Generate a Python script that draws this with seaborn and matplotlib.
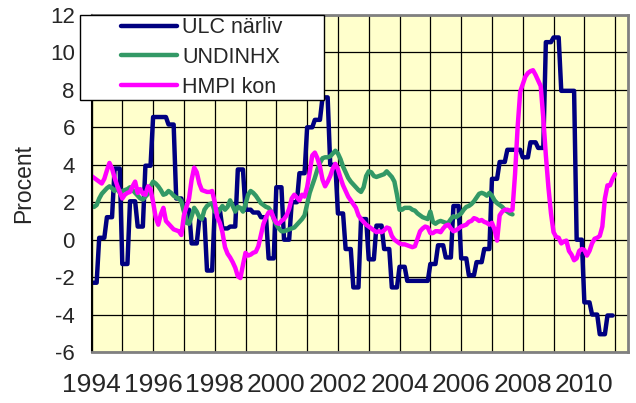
import numpy as np
import pandas as pd
import matplotlib
matplotlib.use("Agg")
import matplotlib.pyplot as plt
from matplotlib.lines import Line2D
from matplotlib.patches import Rectangle
import seaborn as sns

# Series names and tick labels
series_names = ["ULC närliv", "UNDINHX", "HMPI kon"]
year_labels = [1994, 1996, 1998, 2000, 2002, 2004, 2006, 2008, 2010]
y_ticks = [-6, -4, -2, 0, 2, 4, 6, 8, 10, 12]

# ULC närliv: quarterly values, 1994Q1-2010Q4 (percent)
ulc_quarterly = [
    -2.3, 0.1, 1.2, 3.8,
    -1.3, 2.05, 0.7, 3.95,
    6.55, 6.55, 6.15, 2.2,
    1.6, -0.2, 1.1, -1.65,
    1.6, 0.6, 0.7, 3.75,
    1.6, 1.45, 1.2, -1.0,
    2.8, 0.0, 2.0, 3.55,
    6.0, 6.4, 7.6, 4.0,
    1.4, -0.5, -2.55, 1.1,
    -1.05, 0.75, -0.5, -2.55,
    -1.45, -2.2, -2.2, -2.2,
    -1.3, -0.3, -0.95, 1.8,
    -1.0, -1.9, -1.2, -0.5,
    3.25, 4.15, 4.8, 4.8,
    4.4, 5.2, 4.9, 10.55,
    10.8, 7.95, 7.95, 0.0,
    -3.35, -4.0, -5.05, -4.05,
]

# UNDINHX: monthly values from Jan 1994 (percent)
undinhx_monthly = [
    1.8, 1.75, 1.85, 2.2, 2.45, 2.6, 2.75, 2.85, 2.75, 2.6, 2.75, 2.5,
    2.6, 2.65, 2.7, 2.8, 2.65, 2.5, 2.35, 2.2, 2.15, 2.3, 2.45, 2.85,
    3.1, 3.0, 2.85, 2.65, 2.4, 2.45, 2.6, 2.5, 2.35, 2.25, 2.2, 2.05,
    1.5, 0.9, 0.85, 1.25, 1.7, 1.5, 1.2, 1.1, 1.6, 1.8, 1.9, 1.95,
    1.5, 1.4, 1.6, 1.8, 1.6, 1.75, 2.1, 1.8, 1.5, 1.75, 1.7, 1.5,
    1.9, 2.4, 2.6, 2.5, 2.35, 2.15, 1.95, 1.85, 1.75, 1.7, 1.5, 1.1,
    0.8, 0.6, 0.45, 0.45, 0.5, 0.55, 0.6, 0.65, 0.8, 0.95, 1.1, 1.3,
    1.9, 2.5, 2.9, 3.3, 3.75, 4.1, 4.35, 4.4, 4.4, 4.45, 4.6, 4.75,
    4.6, 4.3, 3.9, 3.6, 3.3, 3.1, 2.95, 2.8, 2.65, 2.55, 2.8, 3.4,
    3.65, 3.6, 3.4, 3.35, 3.4, 3.45, 3.5, 3.65, 3.5, 3.35, 3.1, 2.4,
    1.6, 1.6, 1.7, 1.7, 1.7, 1.6, 1.55, 1.4, 1.3, 1.2, 1.15, 1.1,
    1.5, 0.95, 0.85, 0.95, 1.0, 0.95, 0.9, 0.9, 1.1, 1.25, 1.2, 1.3,
    1.4, 1.6, 1.75, 1.8, 1.9, 2.05, 2.25, 2.45, 2.5, 2.45, 2.35, 2.5,
    2.35, 2.1, 1.95, 1.85, 1.75, 1.6, 1.5, 1.4, 1.35,
]

# HMPI kon: monthly values from Jan 1994 (percent)
hmpi_monthly = [
    3.4, 3.3, 3.2, 3.1, 3.0, 3.25, 3.7, 4.1, 3.8, 3.3, 2.9, 2.55,
    2.2, 2.4, 2.5, 2.55, 2.85, 3.1, 2.5, 2.7, 2.45, 2.4, 2.85, 2.7,
    2.0, 1.2, 0.8, 1.35, 1.7, 1.0, 0.85, 0.7, 0.55, 0.5, 0.45, 0.25,
    1.3, 1.75, 2.2, 3.2, 3.85, 3.6, 3.0, 2.65, 2.6, 2.55, 2.55, 2.6,
    2.0, 1.2, 0.9, 0.4, -0.4, -0.75, -0.95, -1.2, -1.5, -1.95, -2.05, -1.35,
    -0.7, -0.85, -0.8, -0.7, -0.65, -0.35, 0.25, 0.85, 1.2, 1.45, 1.5, 1.15,
    0.9, 0.85, 1.0, 1.1, 1.3, 1.65, 2.2, 2.4, 2.25, 2.1, 2.4, 2.3,
    2.8, 3.6, 4.5, 4.65, 4.35, 3.9, 3.2, 2.85, 3.1, 3.4, 3.8, 4.05,
    3.75, 3.3, 2.9, 2.6, 2.3, 2.1, 1.9, 1.7, 1.3, 1.1, 0.95, 0.8,
    0.7, 0.6, 0.5, 0.4, 0.45, 0.4, 0.5, 0.65, 0.6, 0.2, 0.0, -0.1,
    -0.2, -0.25, -0.25, -0.3, -0.35, -0.4, -0.35, 0.05, 0.45, 0.6, 0.7, 0.65,
    0.35, 0.35, 0.45, 0.45, 0.4, 0.6, 0.75, 0.8, 0.6, 0.45, 0.5, 0.6,
    0.7, 0.75, 0.8, 0.95, 1.0, 1.15, 1.1, 1.0, 1.05, 0.95, 0.9, 0.8,
    0.9, 0.55, -0.05, 1.3, 1.5, 1.6, 1.6, 1.55, 1.6, 3.5, 6.0, 7.9,
    8.3, 8.7, 8.9, 9.0, 9.05, 8.8, 8.5, 8.2, 6.5, 4.5, 2.8, 1.4,
    0.4, 0.15, 0.1, -0.2, -0.1, -0.05, -0.6, -0.8, -1.1, -1.0, -0.6, -0.5,
    -0.55, -0.85, -0.6, -0.2, 0.05, 0.1, 0.2, 0.7, 2.2, 2.9, 2.9, 3.25, 3.5,
]

colors = {"ULC närliv": "#000080", "UNDINHX": "#339966", "HMPI kon": "#FF00FF"}

# Each quarterly ULC figure applies to the three months of its quarter
ulc_monthly = np.repeat(ulc_quarterly, 3)


def monthly_frame(values, name):
    months = np.arange(len(values))
    return pd.DataFrame({"tid": 1994 + months / 12.0,
                         "procent": values,
                         "serie": name})


df = pd.concat([monthly_frame(ulc_monthly, series_names[0]),
                monthly_frame(undinhx_monthly, series_names[1]),
                monthly_frame(hmpi_monthly, series_names[2])],
               ignore_index=True)

sns.set_style("white")
plt.rcParams["font.family"] = ["Liberation Sans", "DejaVu Sans"]
plt.rcParams["axes.unicode_minus"] = False

W, H = 636, 403
fig = plt.figure(figsize=(W / 100, H / 100), dpi=100)
left, right, top, bottom = 91.5, 628, 15, 352
ax = fig.add_axes([left / W, 1 - bottom / H, (right - left) / W, (bottom - top) / H])
ax.set_facecolor("#FFFFCC")

sns.lineplot(data=df, x="tid", y="procent", hue="serie",
             hue_order=series_names, palette=colors, linewidth=3.2,
             legend=False, ax=ax, sort=False, estimator=None,
             solid_capstyle="round", solid_joinstyle="round")

ax.set_xlim(1994, 1994 + 209 / 12.0)
ax.set_ylim(-6, 12)
ax.set_yticks(y_ticks)
ax.set_yticklabels([str(v) for v in y_ticks])
ax.set_xticks(year_labels)
ax.set_xticklabels([str(y) for y in year_labels])
ax.set_xticks(np.arange(1995, 2012, 2), minor=True)

ax.set_axisbelow(True)
ax.grid(axis="y", color="black", linewidth=0.9)
ax.grid(axis="x", which="both", color="black", linewidth=0.9)

ax.tick_params(axis="x", which="both", length=0, pad=15, labelsize=19)
ax.tick_params(axis="y", length=4, width=1, color="black", pad=8,
               labelsize=16, direction="out")

for name, sp in ax.spines.items():
    if name == "left":
        sp.set_color("black")
        sp.set_linewidth(1.5)
    else:
        sp.set_color("#808080")
        sp.set_linewidth(2)

ax.set_xlabel("")
ax.set_ylabel("Procent", fontsize=16.5)
ax.yaxis.set_label_coords((35 - left) / (right - left), 0.5)

# Legend box in the upper left corner
box_l, box_t, box_r, box_b = 80, 15, 324, 100
fig.add_artist(Rectangle((box_l / W, 1 - box_b / H), (box_r - box_l) / W,
                         (box_b - box_t) / H, transform=fig.transFigure,
                         facecolor="white", edgecolor="black", linewidth=1,
                         zorder=4))
handles = [Line2D([0], [0], color=colors[n], linewidth=3.2,
                  solid_capstyle="round") for n in series_names]
fig.legend(handles, series_names, loc="center",
           bbox_to_anchor=((box_l + box_r) / 2 / W, 1 - (box_t + box_b) / 2 / H),
           bbox_transform=fig.transFigure, frameon=False, fontsize=15.5,
           handlelength=2.6, handletextpad=0.25, labelspacing=0.4,
           borderpad=0.0)

fig.savefig("out.png", dpi=100)
